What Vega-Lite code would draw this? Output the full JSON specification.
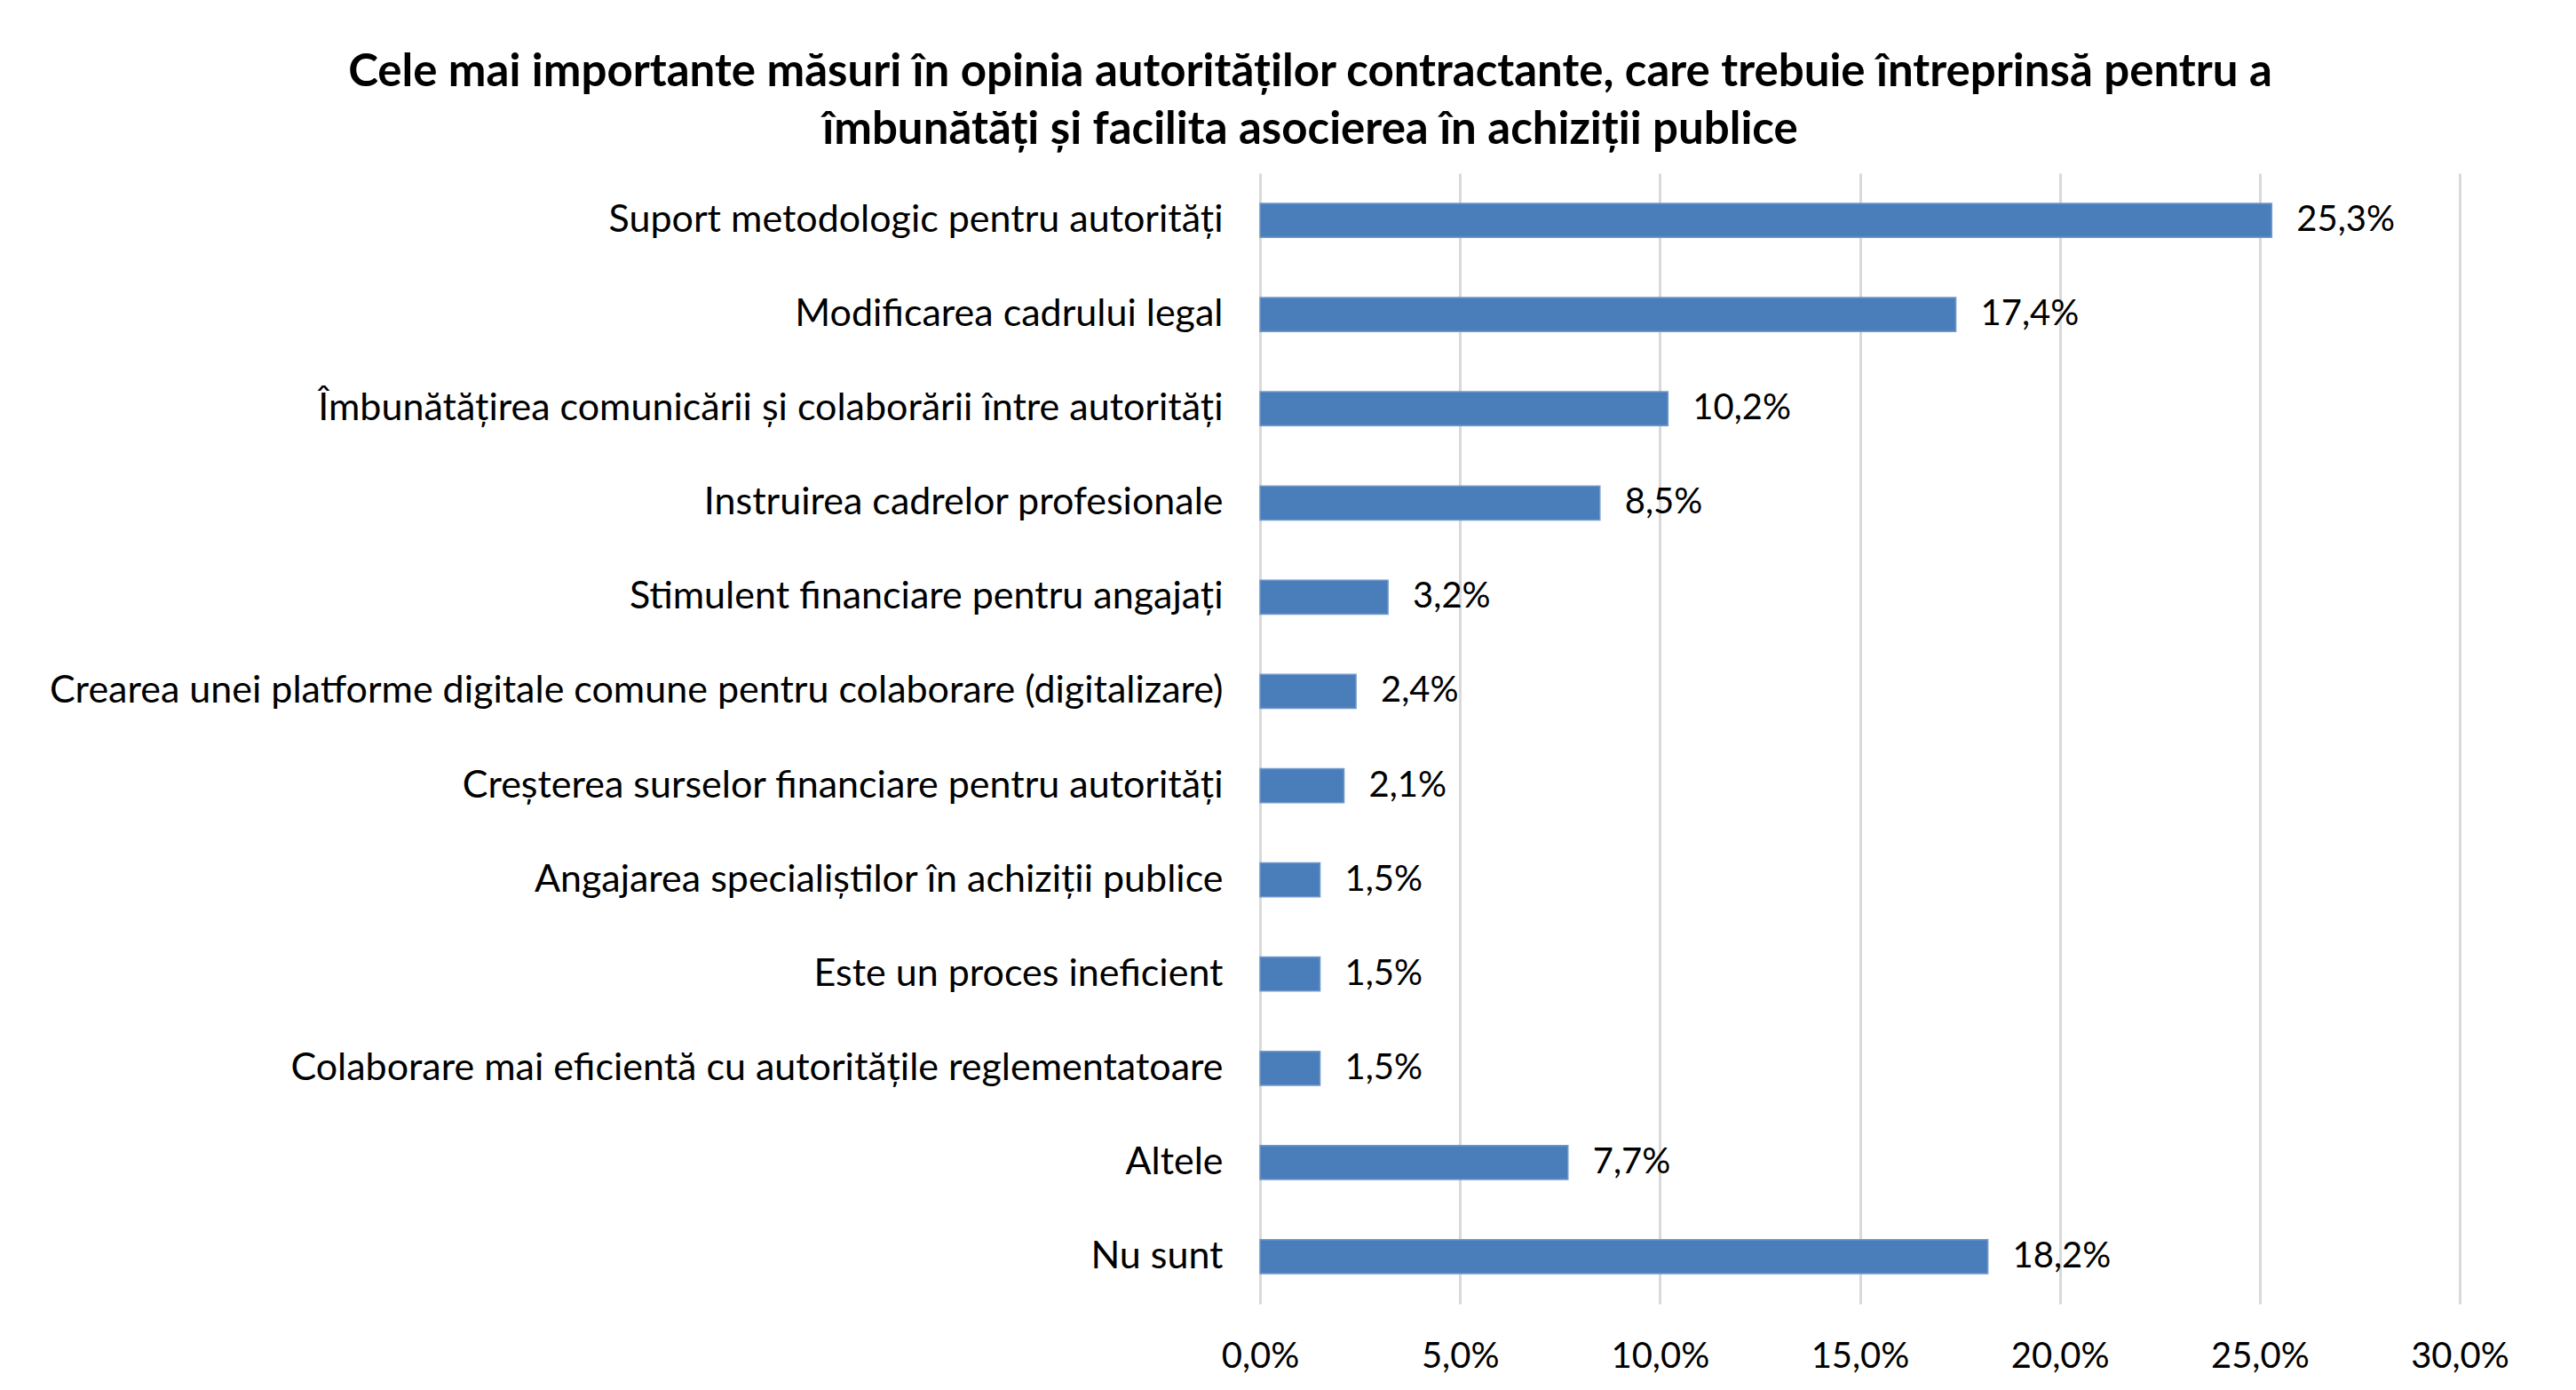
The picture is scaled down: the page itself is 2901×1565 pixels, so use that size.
{
  "$schema": "https://vega.github.io/schema/vega-lite/v6.json",
  "width": 1351,
  "height": 1273,
  "autosize": {"type": "none"},
  "padding": {"left": 1419, "top": 195, "right": 131, "bottom": 97},
  "background": "white",
  "config": {
    "locale": {"number": {"decimal": ",", "thousands": ".", "grouping": [3], "currency": ["", " lei"]}},
    "view": {"stroke": null},
    "font": "Lato"
  },
  "title": {
    "text": ["Cele mai importante măsuri în opinia autorităților contractante, care trebuie întreprinsă pentru a", "îmbunătăți și facilita asocierea în achiziții publice"],
    "fontSize": 51,
    "fontWeight": "bold",
    "font": "Lato",
    "color": "#000000",
    "lineHeight": 65,
    "anchor": "middle",
    "dx": -619,
    "offset": 22
  },
  "data": {
    "values": [
      {"measure": "Suport metodologic pentru autorități", "share": 0.253},
      {"measure": "Modificarea cadrului legal", "share": 0.174},
      {"measure": "Îmbunătățirea comunicării și colaborării între autorități", "share": 0.102},
      {"measure": "Instruirea cadrelor profesionale", "share": 0.085},
      {"measure": "Stimulent financiare pentru angajați", "share": 0.032},
      {"measure": "Crearea unei platforme digitale comune pentru colaborare (digitalizare)", "share": 0.024},
      {"measure": "Creșterea surselor financiare pentru autorități", "share": 0.021},
      {"measure": "Angajarea specialiștilor în achiziții publice", "share": 0.015},
      {"measure": "Este un proces ineficient", "share": 0.015},
      {"measure": "Colaborare mai eficientă cu autoritățile reglementatoare", "share": 0.015},
      {"measure": "Altele", "share": 0.077},
      {"measure": "Nu sunt", "share": 0.182}
    ]
  },
  "encoding": {
    "y": {
      "field": "measure",
      "type": "nominal",
      "sort": null,
      "title": null,
      "scale": {"paddingInner": 0.64, "paddingOuter": 0.32},
      "axis": {
        "domain": false,
        "ticks": false,
        "grid": false,
        "labelPadding": 42,
        "labelFontSize": 43,
        "labelFont": "Lato",
        "labelColor": "#000000",
        "labelLimit": 2000
      }
    },
    "x": {
      "field": "share",
      "type": "quantitative",
      "title": null,
      "scale": {"domain": [0, 0.3], "nice": false},
      "axis": {
        "values": [0, 0.05, 0.1, 0.15, 0.2, 0.25, 0.3],
        "format": ".1%",
        "domain": false,
        "ticks": false,
        "grid": true,
        "gridColor": "#d9d9d9",
        "gridWidth": 3,
        "labelFlush": false,
        "labelOverlap": false,
        "labelPadding": 39,
        "labelFontSize": 40,
        "labelFont": "Lato",
        "labelColor": "#000000"
      }
    }
  },
  "layer": [
    {
      "mark": {"type": "bar", "color": "#4A7EBB", "stroke": "#7299cc", "strokeWidth": 1.5}
    },
    {
      "mark": {"type": "text", "align": "left", "baseline": "middle", "dx": 28, "fontSize": 40, "font": "Lato", "color": "#000000"},
      "encoding": {"text": {"field": "share", "type": "quantitative", "format": ".1%"}}
    }
  ]
}
